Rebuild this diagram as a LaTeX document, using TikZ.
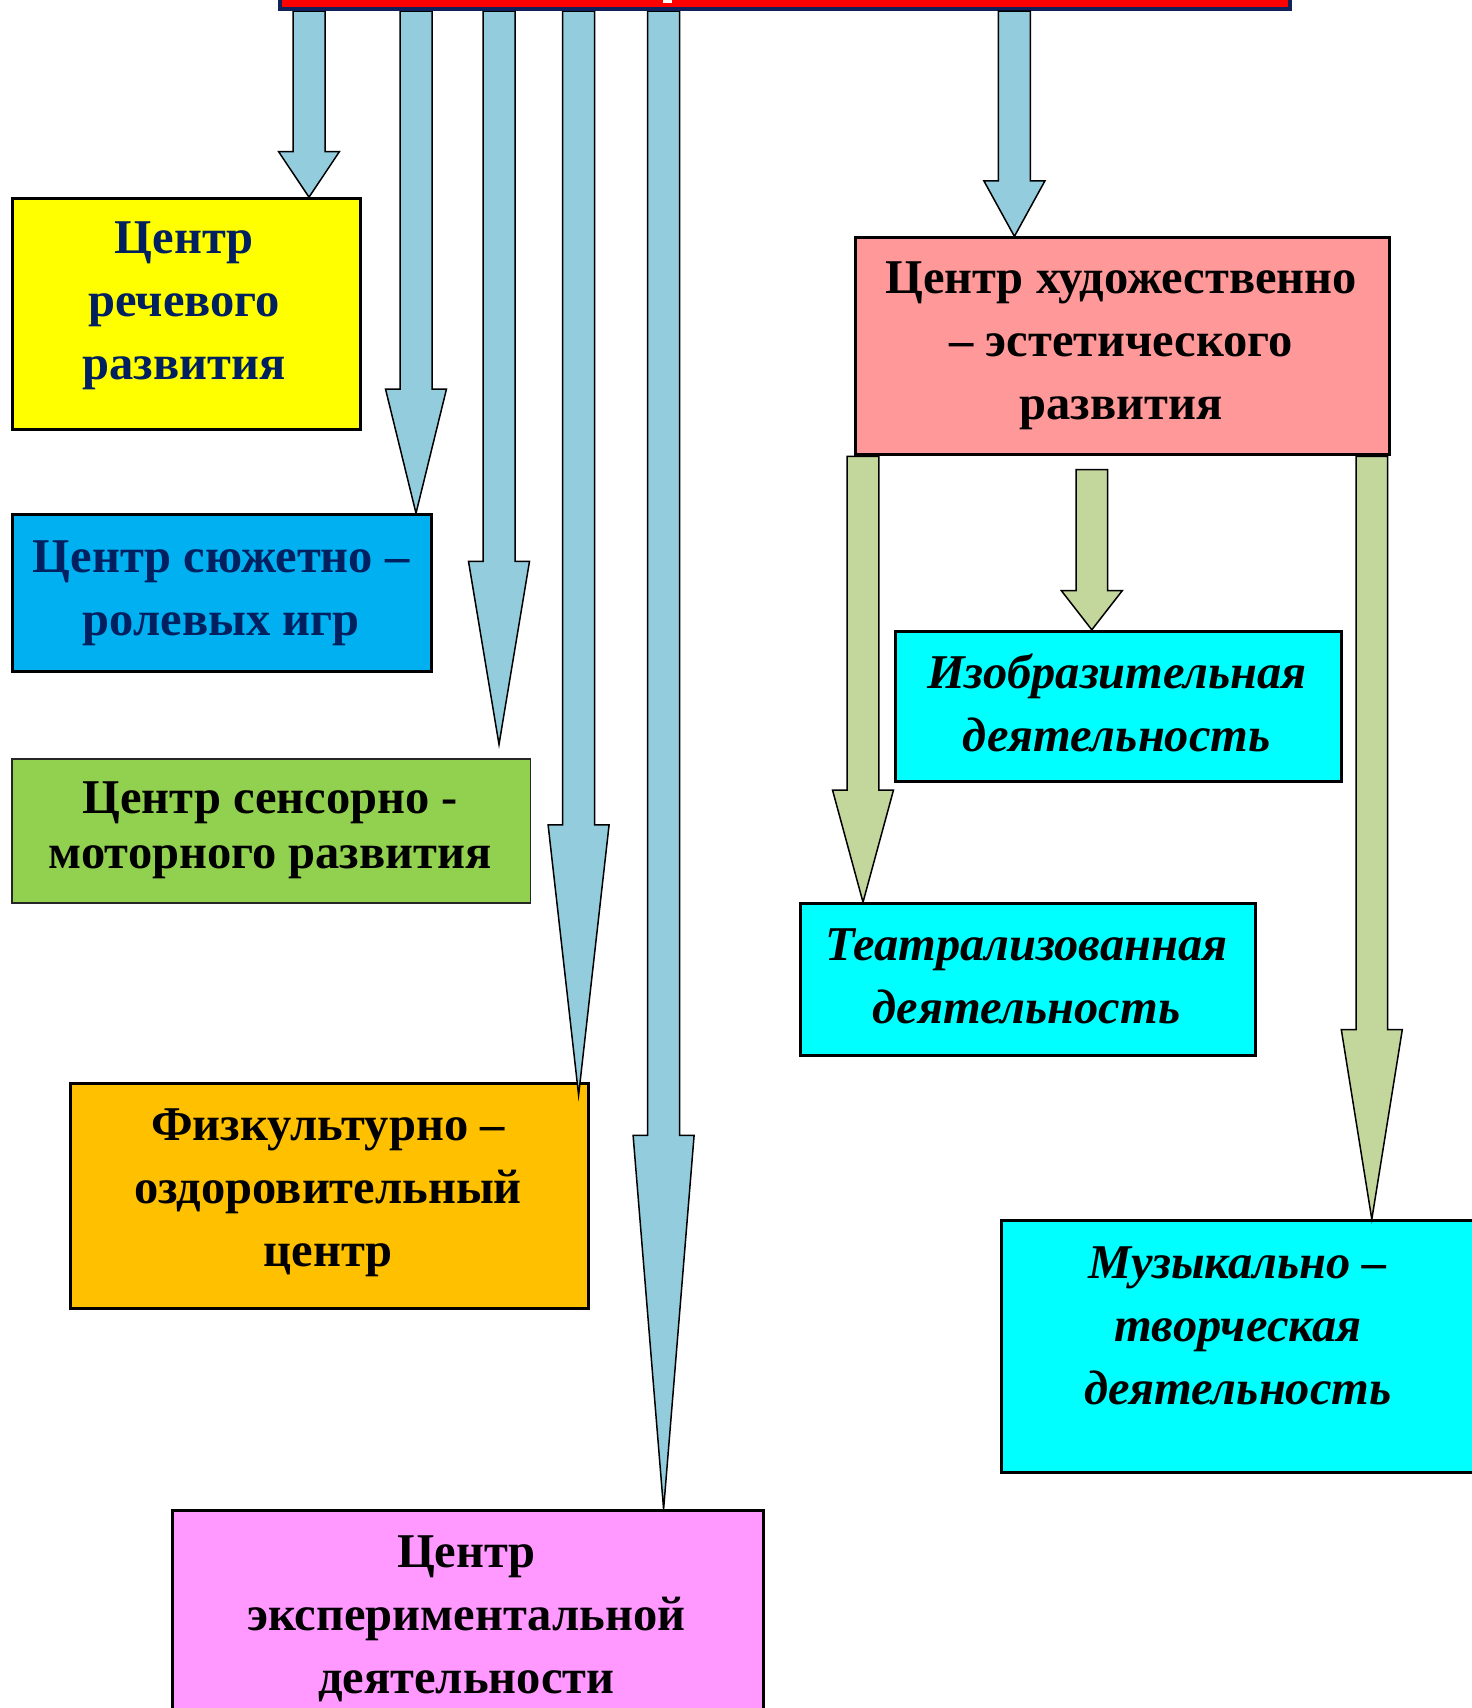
\documentclass[tikz,border=0pt]{standalone}
\usepackage{fontspec}
\setmainfont{Liberation Serif}
\usetikzlibrary{calc}
\definecolor{arrblue}{RGB}{147,205,221}
\definecolor{arrgreen}{RGB}{195,214,155}
\definecolor{navytxt}{RGB}{0,32,96}
\definecolor{navyline}{RGB}{17,34,90}
\definecolor{boxyellow}{RGB}{255,255,0}
\definecolor{boxblue}{RGB}{0,176,240}
\definecolor{boxgreen}{RGB}{146,208,80}
\definecolor{boxorange}{RGB}{255,192,0}
\definecolor{boxpink}{RGB}{255,153,255}
\definecolor{boxsalmon}{RGB}{255,153,153}
\definecolor{boxcyan}{RGB}{0,255,255}
\definecolor{boxred}{RGB}{255,0,0}
\newcommand\blockarrow[6]{%
  \draw[#1] let \p1=(#2), \p2=(#3) in
    (\x1-#4pt,\y1) -- (\x1-#4pt,\y2+#6pt) -- (\x1-#5pt,\y2+#6pt) -- (\x1,\y2)
    -- (\x1+#5pt,\y2+#6pt) -- (\x1+#4pt,\y2+#6pt) -- (\x1+#4pt,\y1) -- cycle;}
\tikzset{
  box/.style={draw=black, line width=3pt, anchor=north west, inner sep=0pt},
  thinbox/.style={draw=black!85, line width=1.6pt, anchor=north west, inner sep=0pt},
  lbl/.style={font=\fontsize{48.5}{63}\selectfont\bfseries, align=center, inner sep=0pt},
  ilbl/.style={font=\fontsize{48.5}{63}\selectfont\bfseries\itshape, align=center, inner sep=0pt},
  bluearrow/.style={draw=black, line width=1.5pt, fill=arrblue, line join=miter},
  greenarrow/.style={draw=black, line width=1.5pt, fill=arrgreen, line join=miter},
}
\begin{document}
\begin{tikzpicture}[x=1pt,y=-1pt]
\clip (0,0) rectangle (1472,1708);
\fill[white] (0,0) rectangle (1472,1708);

% boxes
\node[box, fill=boxyellow, minimum width=347.6pt, minimum height=231pt] (yellow) at (10.9,197.2) {};
\node[box, fill=boxblue, minimum width=419.5pt, minimum height=156.9pt] (blue) at (10.9,513.2) {};
\node[thinbox, fill=boxgreen, minimum width=518.6pt, minimum height=143.8pt] (green) at (10.9,758.4) {};
\node[box, fill=boxorange, minimum width=518.7pt, minimum height=224.5pt] (orange) at (68.6,1082) {};
\node[box, fill=boxpink, minimum width=590.5pt, minimum height=260pt] (pink) at (171.1,1509.1) {};
\node[box, fill=boxcyan, minimum width=446.7pt, minimum height=150.4pt] (cyanA) at (893.5,629.8) {};
\node[box, fill=boxcyan, minimum width=455.4pt, minimum height=151.4pt] (cyanB) at (798.7,902.2) {};
\node[box, fill=boxcyan, minimum width=500pt, minimum height=252pt] (cyanC) at (1000.3,1219.2) {};

% title box (mostly above the page)
\node[draw=navyline, line width=4pt, fill=boxred, anchor=south west, minimum width=1010pt, minimum height=120pt, inner sep=0pt] (title) at (278,11) {};

% arrow positions
\coordinate (a1x) at (309,0);
\coordinate (a2x) at (416,0);
\coordinate (a3x) at (499,0);
\coordinate (a4x) at (578.6,0);
\coordinate (a5x) at (663.6,0);
\coordinate (a6x) at (1014.4,0);
\coordinate (g1x) at (863,0);
\coordinate (g2s) at (1091.8,469.6);
\coordinate (g3x) at (1371.8,0);

% blue arrows from title
\blockarrow{bluearrow}{a1x |- title.south}{a1x |- yellow.north}{16}{30.5}{45.7}
\blockarrow{bluearrow}{a2x |- title.south}{a2x |- blue.north}{16}{30.5}{124.2}
\blockarrow{bluearrow}{a3x |- title.south}{$(a3x |- green.north)+(0,-14)$}{16}{30.5}{183.1}
\blockarrow{bluearrow}{a4x |- title.south}{$(a4x |- orange.north)+(0,13)$}{16}{30.5}{270.2}
\blockarrow{bluearrow}{a5x |- title.south}{a5x |- pink.north}{16}{30.5}{373.7}

% redraw title on top of arrow tops
\node[draw=navyline, line width=4pt, fill=boxred, anchor=south west, minimum width=1010pt, minimum height=120pt, inner sep=0pt] (titlecover) at (278,11) {};
\fill[white] (663,0) rectangle (672,3);

% salmon box
\node[box, fill=boxsalmon, minimum width=534pt, minimum height=216.9pt] (salmon) at (854.2,236.4) {};
\blockarrow{bluearrow}{a6x |- titlecover.south}{a6x |- salmon.north}{16}{30.5}{55.5}

% green arrows
\blockarrow{greenarrow}{g1x |- salmon.south}{g1x |- cyanB.north}{15.8}{30.5}{112.2}
\blockarrow{greenarrow}{g2s}{g2s |- cyanA.north}{15.8}{30.5}{39.2}
\blockarrow{greenarrow}{g3x |- salmon.south}{g3x |- cyanC.north}{15.8}{30.5}{189.6}
\node[box, fill=boxsalmon, minimum width=534pt, minimum height=216.9pt] (salmoncover) at (854.2,236.4) {};

% labels
\node[lbl, text=navytxt] (tyellow) at (184.1,306.2) {Центр\\речевого\\развития};
\node[lbl, text=navytxt] (tblue) at (221.2,592.8) {Центр сюжетно –\\ролевых игр};
\node[lbl, font=\fontsize{48.5}{54.5}\selectfont\bfseries] (tgreen) at (270.2,830.3) {Центр сенсорно -\\моторного развития};
\node[lbl] (torange) at (328,1192.5) {Физкультурно –\\оздоровительный\\центр};
\node[lbl] (tpink) at (466.3,1619.2) {Центр\\экспериментальной\\деятельности};
\node[lbl] (tsalmon) at (1121.2,346) {Центр художественно\\– эстетического\\развития};
\node[ilbl] (tcyanA) at (1116.8,703) {Изобразительная\\деятельность};
\node[ilbl] (tcyanB) at (1026.4,976.8) {Театрализованная\\деятельность};
\node[ilbl] (tcyanC) at (1237.8,1326) {Музыкально –\\творческая\\деятельность};
\end{tikzpicture}
\end{document}
